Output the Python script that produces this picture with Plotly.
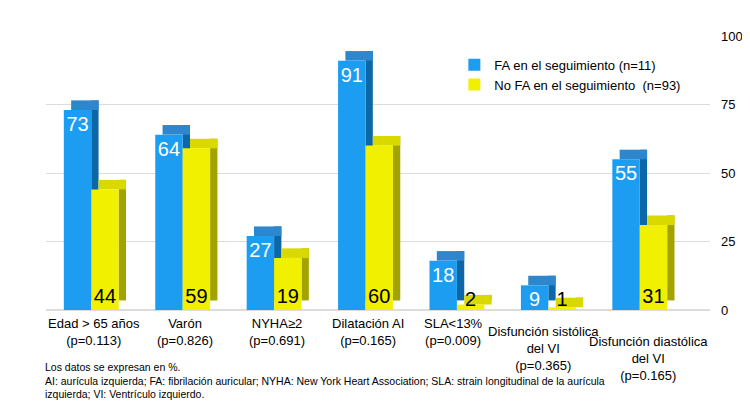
import plotly.graph_objects as go

categorias = [
    'Edad > 65 años<br>(p=0.113)',
    'Varón<br>(p=0.826)',
    'NYHA≥2<br>(p=0.691)',
    'Dilatación AI<br>(p=0.165)',
    'SLA<13%<br>(p=0.009)',
    'Disfunción sistólica<br>del VI<br>(p=0.365)',
    'Disfunción diastólica<br>del VI<br>(p=0.165)',
]
fa_si = [73, 64, 27, 91, 18, 9, 55]
fa_no = [44, 59, 19, 60, 2, 1, 31]
y_ticks = [0, 25, 50, 75, 100]

nota = ('Los datos se expresan en %.<br>'
        'AI: aurícula izquierda; FA: fibrilación auricular; NYHA: New York Heart Association; '
        'SLA: strain longitudinal de la aurícula<br>'
        'izquierda; VI: Ventrículo izquierdo.')

FONT = 'Liberation Sans, Arial, sans-serif'
ancho = 0.3      # ancho de la cara frontal
lado = 0.08      # ancho de la cara lateral (falso 3D)
prof = 3.5       # desplazamiento vertical de la profundidad
# desplazamientos (px) de las etiquetas de categoría, escalonadas como en el original
etq_dx = [0, 0, 0, 0, -6, -8, 6]
etq_dy = [0, 0, 0, 0, 0, -8, -18]

fig = go.Figure()

series = [
    (fa_si, 'FA en el seguimiento (n=11)', -0.33, '#1C9DF2', '#0B67A8', '#2E86CC', 'white', 'end'),
    (fa_no, 'No FA en el seguimiento  (n=93)', -0.03, '#F0F000', '#A3A300', '#D9D900', 'black', 'start'),
]

for vals, nombre, off, c_front, c_side, c_top, c_txt, anchor in series:
    # cara lateral
    fig.add_bar(x=categorias, y=vals, base=[prof] * len(vals), offset=off + ancho, width=lado,
                marker=dict(color=c_side, line_width=0), showlegend=False, hoverinfo='skip')
    # cara superior
    fig.add_bar(x=categorias, y=[prof] * len(vals), base=vals, offset=off + lado, width=ancho,
                marker=dict(color=c_top, line_width=0), showlegend=False, hoverinfo='skip')
    # cara frontal
    fig.add_bar(x=categorias, y=vals, offset=off, width=ancho, name=nombre,
                marker=dict(color=c_front, line_width=0),
                text=vals, textposition='inside', insidetextanchor=anchor, constraintext='none',
                textfont=dict(size=20, color=c_txt, family=FONT), textangle=0)

# etiquetas de categoría
for cat, dx, dy in zip(categorias, etq_dx, etq_dy):
    fig.add_annotation(x=cat, y=0, xref='x', yref='y', yanchor='top', yshift=-4 + dy, xshift=dx,
                       text=cat, showarrow=False, align='center',
                       font=dict(size=13, color='black', family=FONT))

fig.add_annotation(text=nota, xref='paper', yref='paper', x=-0.005, y=-0.18, xanchor='left', yanchor='top',
                   align='left', showarrow=False, font=dict(size=10.5, color='black', family=FONT))

fig.update_layout(
    width=750, height=414,
    barmode='overlay',
    paper_bgcolor='white', plot_bgcolor='white',
    margin=dict(l=38, r=48, t=28, b=112),
    font=dict(family=FONT, color='black', size=13),
    legend=dict(x=0.615, y=0.95, xanchor='left', yanchor='top', bgcolor='rgba(0,0,0,0)',
                font=dict(size=13, family=FONT), itemwidth=30, tracegroupgap=0),
    xaxis=dict(showgrid=False, showline=False, ticks='', showticklabels=False),
    yaxis=dict(side='right', range=[0, 100], tickvals=y_ticks, showgrid=True, gridcolor='#DCDCDC',
               gridwidth=1.2, zeroline=True, zerolinecolor='#DCDCDC', ticks='', ticklabelstandoff=10,
               tickfont=dict(size=13, family=FONT)),
)

fig.write_html("out.html")
